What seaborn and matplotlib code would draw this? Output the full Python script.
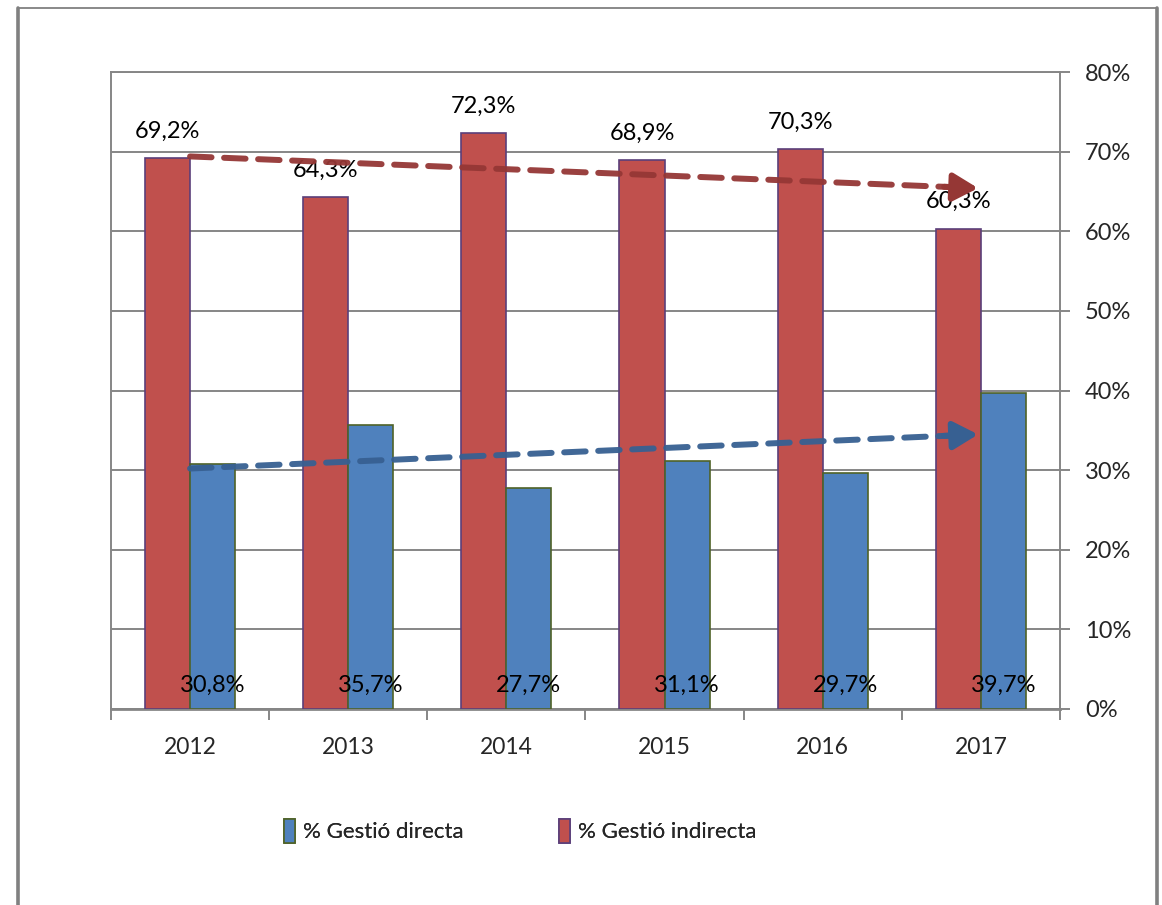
import matplotlib
matplotlib.use("Agg")
import matplotlib.pyplot as plt
from matplotlib.lines import Line2D
from matplotlib.patches import Patch
import seaborn as sns
import pandas as pd

years = ["2012", "2013", "2014", "2015", "2016", "2017"]
directa = [30.8, 35.7, 27.7, 31.1, 29.7, 39.7]
indirecta = [69.2, 64.3, 72.3, 68.9, 70.3, 60.3]
yticks = [0, 10, 20, 30, 40, 50, 60, 70, 80]

# trend arrows (start at first year, end at last year)
trend_x = [0, 5]
trend_indirecta = [69.4, 65.4]
trend_directa = [30.2, 34.5]

RED = "#C0504D"
BLUE = "#4F81BD"
RED_EDGE = "#5B3F7A"
BLUE_EDGE = "#4F6228"
GRID = "#868686"

sns.set_style("white")
plt.rcParams["font.family"] = ["Lato", "DejaVu Sans"]

df = pd.DataFrame({
    "year": years * 2,
    "value": indirecta + directa,
    "serie": ["% Gestió indirecta"] * 6 + ["% Gestió directa"] * 6,
})

fig = plt.figure(figsize=(11.62, 9.05), dpi=100)
ax = fig.add_axes([0.0955, 0.2166, 0.8167, 0.7038])

sns.barplot(data=df, x="year", y="value", hue="serie",
            hue_order=["% Gestió indirecta", "% Gestió directa"],
            palette=[RED, BLUE], width=0.57, gap=0, saturation=1,
            legend=False, ax=ax)

red_bars, blue_bars = ax.containers[0], ax.containers[1]
for p in red_bars:
    p.set_edgecolor(RED_EDGE)
    p.set_linewidth(1.2)
for p in blue_bars:
    p.set_edgecolor(BLUE_EDGE)
    p.set_linewidth(1.2)
for p in list(red_bars) + list(blue_bars):
    p.set_zorder(3)

# value labels
for p, v in zip(red_bars, indirecta):
    ax.text(p.get_x() + p.get_width() / 2, v + 3.4, f"{v:.1f}%".replace(".", ","),
            ha="center", va="center", fontsize=17, color="black", zorder=5)
for p, v in zip(blue_bars, directa):
    ax.text(p.get_x() + p.get_width() / 2, 3.0, f"{v:.1f}%".replace(".", ","),
            ha="center", va="center", fontsize=17, color="black", zorder=5)

# trend arrows
for ys, col in [(trend_indirecta, "#953735"), (trend_directa, "#376092")]:
    x0, x1 = trend_x
    y0, y1 = ys
    frac = 0.965
    ax.plot([x0, x0 + (x1 - x0) * frac], [y0, y0 + (y1 - y0) * frac],
            color=col, lw=4.3, ls=(0, (3.6, 2.1)), dash_capstyle="round",
            solid_capstyle="round", zorder=6, alpha=0.95)
    ax.annotate("", xy=(x1, y1), xytext=(x0 + (x1 - x0) * 0.95, y0 + (y1 - y0) * 0.95),
                arrowprops=dict(arrowstyle="-|>,head_length=0.75,head_width=0.42",
                                color=col, lw=4.3, mutation_scale=20),
                zorder=7)

ax.set_xlim(-0.5, 5.5)
ax.set_ylim(0, 80)
ax.set_yticks(yticks)
ax.set_yticklabels([f"{t}%" for t in yticks], fontsize=17)
ax.yaxis.tick_right()
ax.yaxis.grid(True, color=GRID, lw=1.4, zorder=0)
ax.set_axisbelow(True)
ax.tick_params(axis="y", right=True, length=7, width=1.4, color=GRID, pad=11)

ax.set_xticks(range(len(years)))
ax.set_xticklabels(years, fontsize=16.5)
ax.set_xticks([i - 0.5 for i in range(len(years) + 1)], minor=True)
ax.tick_params(axis="x", which="major", length=0, pad=20)
ax.tick_params(axis="x", which="minor", bottom=True, length=8, width=1.4, color=GRID)
ax.set_xlabel("")
ax.set_ylabel("")
for s in ax.spines.values():
    s.set_visible(True)
    s.set_color(GRID)
    s.set_linewidth(1.4)
ax.spines["bottom"].set_linewidth(2)

# legend: two entries placed where the reference has them
entries = [("% Gestió directa", BLUE, BLUE_EDGE, 284),
           ("% Gestió indirecta", RED, RED_EDGE, 559)]
for label, fc, ec, xpx in entries:
    leg = fig.legend([Patch(facecolor=fc, edgecolor=ec, lw=1.2)], [label],
                     loc="center left", bbox_to_anchor=(xpx / 1162, 0.082),
                     frameon=False, fontsize=16, handlelength=0.5, handleheight=1.25,
                     handletextpad=0.35, borderpad=0, borderaxespad=0)
    fig.add_artist(leg)

# outer chart frame
fig.add_artist(Line2D([18 / 1162, 18 / 1162], [0, 1 - 8 / 905], color="#808080", lw=2.6))
fig.add_artist(Line2D([18 / 1162, 1157 / 1162], [1 - 8 / 905, 1 - 8 / 905], color="#808080", lw=1.3))
fig.add_artist(Line2D([1157 / 1162, 1157 / 1162], [0, 1 - 8 / 905], color="#808080", lw=2.6))

fig.savefig("out.png", dpi=100)
